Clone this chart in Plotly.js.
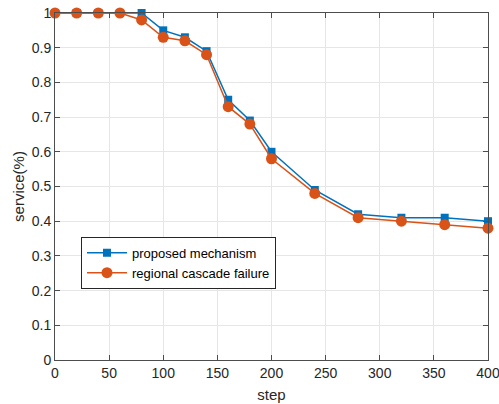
<!DOCTYPE html>
<html>
<head>
<meta charset="utf-8">
<script src="https://cdn.plot.ly/plotly-3.0.1.min.js"></script>
<style>
  html, body { margin: 0; padding: 0; background: #fff; }
  #chart { width: 499px; height: 404px; }
</style>
</head>
<body>
<div id="chart"></div>
<script>
// Simulation steps and the fraction of service retained at each step
const steps = [0, 20, 40, 60, 80, 100, 120, 140, 160, 180, 200, 240, 280, 320, 360, 400];
const proposedMechanism = [1, 1, 1, 1, 1, 0.95, 0.93, 0.89, 0.75, 0.69, 0.60, 0.49, 0.42, 0.41, 0.41, 0.40];
const regionalCascade = [1, 1, 1, 1, 0.98, 0.93, 0.92, 0.88, 0.73, 0.68, 0.58, 0.48, 0.41, 0.40, 0.39, 0.38];
const seriesNames = ["proposed mechanism", "regional cascade failure"];
const xTicks = [0, 50, 100, 150, 200, 250, 300, 350, 400];
const yTicks = [0, 0.1, 0.2, 0.3, 0.4, 0.5, 0.6, 0.7, 0.8, 0.9, 1];

const blue = "#0072BD";
const orange = "#D95319";
const font = "Liberation Sans, Arial, sans-serif";

const traces = [
  {
    x: steps, y: proposedMechanism, name: seriesNames[0],
    type: "scatter", mode: "lines+markers", cliponaxis: false,
    line: { color: blue, width: 1.5 },
    marker: { symbol: "square", size: 8, color: blue }
  },
  {
    x: steps, y: regionalCascade, name: seriesNames[1],
    type: "scatter", mode: "lines+markers", cliponaxis: false,
    line: { color: orange, width: 1.5 },
    marker: { symbol: "circle", size: 11, color: orange }
  }
];

const axisCommon = {
  showgrid: true, gridcolor: "#e6e6e6", gridwidth: 1,
  zeroline: false, showline: true, linecolor: "#4d4d4d", linewidth: 1,
  mirror: "ticks", ticks: "inside", ticklen: 5, tickcolor: "#4d4d4d",
  ticklabeloverflow: "allow",
  tickfont: { family: font, size: 14, color: "#262626" }
};

const layout = {
  width: 499, height: 404,
  margin: { l: 55, r: 11, t: 13, b: 44 },
  paper_bgcolor: "#fff", plot_bgcolor: "#fff",
  showlegend: true,
  legend: {
    x: 0.06, y: 0.355, xanchor: "left", yanchor: "top",
    bgcolor: "#fff", bordercolor: "#262626", borderwidth: 1,
    font: { family: font, size: 13, color: "#000" },
    itemwidth: 40, tracegroupgap: 0
  },
  xaxis: Object.assign({}, axisCommon, {
    range: [0, 400], tickmode: "array", tickvals: xTicks,
    title: { text: "step", standoff: 9, font: { family: font, size: 15, color: "#262626" } }
  }),
  yaxis: Object.assign({}, axisCommon, {
    range: [0, 1], tickmode: "array", tickvals: yTicks,
    title: { text: "service(%)", standoff: 3, font: { family: font, size: 15, color: "#262626" } }
  })
};

Plotly.newPlot("chart", traces, layout, { displayModeBar: false, staticPlot: true });
</script>
</body>
</html>
